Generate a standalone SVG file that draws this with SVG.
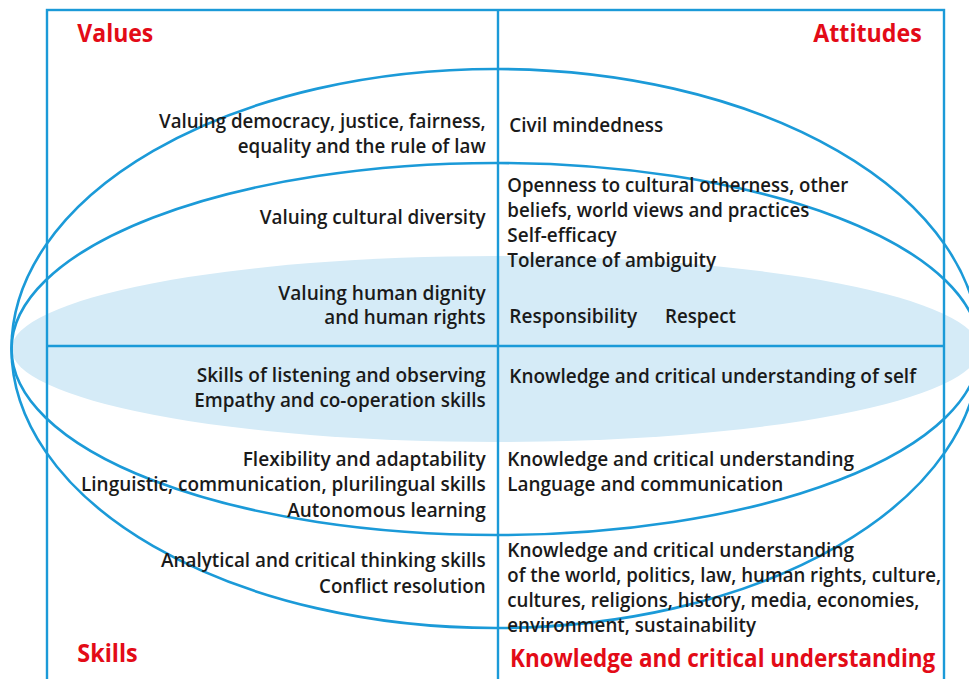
<svg xmlns="http://www.w3.org/2000/svg" width="969" height="679" viewBox="0 0 969 679">
  <style>
    .ring { fill: none; stroke: #1b9ad8; stroke-width: 2.6; }
    .frame { fill: none; stroke: #1b9ad8; stroke-width: 2.4; }
    .core { fill: #d5ebf7; stroke: none; }
    .t { font-family: "Open Sans", "Liberation Sans", sans-serif; font-weight: 600; font-size: 20px; fill: #1a1a1a; }
    .r { text-anchor: end; }
    .h { font-family: "Open Sans", "Liberation Sans", sans-serif; font-weight: 700; font-size: 25px; fill: #e30b17; }
  </style>

  <rect width="969" height="679" fill="#ffffff"/>

  <!-- shaded core band behind everything -->
  <ellipse class="core" cx="495.5" cy="349" rx="484" ry="93"/>

  <!-- connectors: quadrant frame and the nested rings -->
  <g id="connectors">
    <rect class="frame" x="47" y="10" width="897" height="690"/>
    <line class="frame" x1="498" y1="10" x2="498" y2="700"/>
    <line class="frame" x1="47" y1="346" x2="944" y2="346"/>
    <ellipse class="ring" cx="495.5" cy="348.5" rx="484" ry="279.5"/>
    <ellipse class="ring" cx="495.5" cy="349" rx="484" ry="186"/>
  </g>

  <!-- quadrant headings -->
  <g id="heading-values"><text class="h" x="77.3" y="41.7" textLength="76" lengthAdjust="spacingAndGlyphs">Values</text></g>
  <g id="heading-attitudes"><text class="h" x="813.3" y="41.7" textLength="108.4" lengthAdjust="spacingAndGlyphs">Attitudes</text></g>
  <g id="heading-skills"><text class="h" x="77.3" y="661.7" textLength="60.4" lengthAdjust="spacingAndGlyphs">Skills</text></g>
  <g id="heading-knowledge"><text class="h" x="510" y="666.7" textLength="425.3" lengthAdjust="spacingAndGlyphs">Knowledge and critical understanding</text></g>

  <!-- values (upper left) -->
  <g id="values-outer">
    <text class="t r" x="485.7" y="128.3" textLength="326.7" lengthAdjust="spacingAndGlyphs">Valuing democracy, justice, fairness,</text>
    <text class="t r" x="485.7" y="153.3" textLength="248" lengthAdjust="spacingAndGlyphs">equality and the rule of law</text>
  </g>
  <g id="values-middle">
    <text class="t r" x="485.7" y="223.5" textLength="226" lengthAdjust="spacingAndGlyphs">Valuing cultural diversity</text>
  </g>
  <g id="values-core">
    <text class="t r" x="485.7" y="300" textLength="207.4" lengthAdjust="spacingAndGlyphs">Valuing human dignity</text>
    <text class="t r" x="485.7" y="324.3" textLength="161.4" lengthAdjust="spacingAndGlyphs">and human rights</text>
  </g>

  <!-- attitudes (upper right) -->
  <g id="attitudes-outer">
    <text class="t" x="509.3" y="131.7" textLength="154" lengthAdjust="spacingAndGlyphs">Civil mindedness</text>
  </g>
  <g id="attitudes-middle">
    <text class="t" x="507.3" y="191.7" textLength="341" lengthAdjust="spacingAndGlyphs">Openness to cultural otherness, other</text>
    <text class="t" x="507.3" y="216.7" textLength="302" lengthAdjust="spacingAndGlyphs">beliefs, world views and practices</text>
    <text class="t" x="507.3" y="241.7" textLength="109.4" lengthAdjust="spacingAndGlyphs">Self-efficacy</text>
    <text class="t" x="507.3" y="266.7" textLength="208.7" lengthAdjust="spacingAndGlyphs">Tolerance of ambiguity</text>
  </g>
  <g id="attitudes-core">
    <text class="t" x="509.3" y="323.3" textLength="128" lengthAdjust="spacingAndGlyphs">Responsibility</text>
    <text class="t" x="665" y="323.3" textLength="71" lengthAdjust="spacingAndGlyphs">Respect</text>
  </g>

  <!-- skills (lower left) -->
  <g id="skills-core">
    <text class="t r" x="485.7" y="382.3" textLength="289" lengthAdjust="spacingAndGlyphs">Skills of listening and observing</text>
    <text class="t r" x="485.7" y="407.3" textLength="291.4" lengthAdjust="spacingAndGlyphs">Empathy and co-operation skills</text>
  </g>
  <g id="skills-middle">
    <text class="t r" x="485.7" y="466" textLength="243" lengthAdjust="spacingAndGlyphs">Flexibility and adaptability</text>
    <text class="t r" x="485.7" y="491.3" textLength="404.7" lengthAdjust="spacingAndGlyphs">Linguistic, communication, plurilingual skills</text>
    <text class="t r" x="485.7" y="516.7" textLength="198.4" lengthAdjust="spacingAndGlyphs">Autonomous learning</text>
  </g>
  <g id="skills-outer">
    <text class="t r" x="485.7" y="567.3" textLength="324.7" lengthAdjust="spacingAndGlyphs">Analytical and critical thinking skills</text>
    <text class="t r" x="485.7" y="592.7" textLength="166.7" lengthAdjust="spacingAndGlyphs">Conflict resolution</text>
  </g>

  <!-- knowledge and critical understanding (lower right) -->
  <g id="knowledge-core">
    <text class="t" x="509.3" y="382.7" textLength="406.7" lengthAdjust="spacingAndGlyphs">Knowledge and critical understanding of self</text>
  </g>
  <g id="knowledge-middle">
    <text class="t" x="507.3" y="466" textLength="346.7" lengthAdjust="spacingAndGlyphs">Knowledge and critical understanding</text>
    <text class="t" x="507.3" y="491" textLength="276" lengthAdjust="spacingAndGlyphs">Language and communication</text>
  </g>
  <g id="knowledge-outer">
    <text class="t" x="507.3" y="556.7" textLength="346.7" lengthAdjust="spacingAndGlyphs">Knowledge and critical understanding</text>
    <text class="t" x="507.3" y="581.7" textLength="433.7" lengthAdjust="spacingAndGlyphs">of the world, politics, law, human rights, culture,</text>
    <text class="t" x="507.3" y="607.3" textLength="412" lengthAdjust="spacingAndGlyphs">cultures, religions, history, media, economies,</text>
    <text class="t" x="507.3" y="631.7" textLength="248.7" lengthAdjust="spacingAndGlyphs">environment, sustainability</text>
  </g>
</svg>
